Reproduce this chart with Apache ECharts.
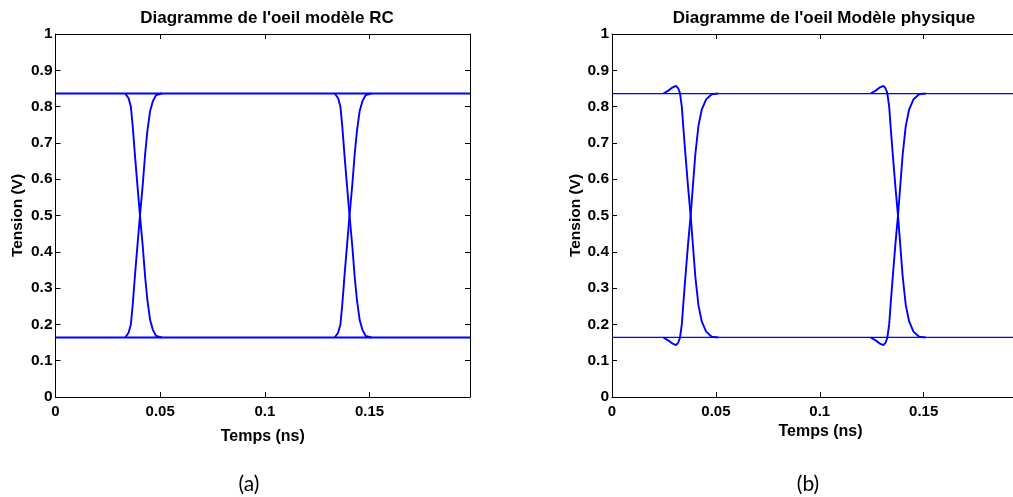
<!DOCTYPE html>
<html>
<head>
<meta charset="utf-8">
<script src="https://cdn.jsdelivr.net/npm/echarts@6/dist/echarts.min.js"></script>
<style>
html,body{margin:0;padding:0;background:#fff;}
#chart{width:1013px;height:497px;}
</style>
</head>
<body>
<div id="chart"></div>
<script>
// ---------- DATA ----------
const titleA = "Diagramme de l'oeil modèle RC";
const titleB = "Diagramme de l'oeil Modèle physique";
const xName = "Temps (ns)";
const yName = "Tension (V)";
const captionA = "(a)";
const captionB = "(b)";

const highLevel = 0.836;
const lowLevel = 0.164;
const rcSpan = [0, 0.198];
const physSpan = [0, 0.193];

// RC model: first transition
const rcTime1 = [0.0333, 0.0349, 0.0360, 0.0369, 0.0380, 0.0392, 0.0404, 0.0417, 0.0428, 0.0439, 0.0452, 0.0465, 0.0481, 0.0508];
const rcFall1 = [0.836, 0.823, 0.800, 0.745, 0.662, 0.579, 0.497, 0.414, 0.332, 0.267, 0.212, 0.185, 0.168, 0.164];
const rcRise1 = [0.164, 0.177, 0.200, 0.255, 0.338, 0.421, 0.503, 0.586, 0.668, 0.733, 0.788, 0.815, 0.832, 0.836];
// RC model: second transition
const rcTime2 = [0.1334, 0.1350, 0.1361, 0.1370, 0.1381, 0.1393, 0.1405, 0.1418, 0.1429, 0.1440, 0.1453, 0.1466, 0.1482, 0.1509];
const rcFall2 = [0.836, 0.823, 0.800, 0.745, 0.662, 0.579, 0.497, 0.414, 0.332, 0.267, 0.212, 0.185, 0.168, 0.164];
const rcRise2 = [0.164, 0.177, 0.200, 0.255, 0.338, 0.421, 0.503, 0.586, 0.668, 0.733, 0.788, 0.815, 0.832, 0.836];

// Physical model: first transition
const phTime1 = [0.0247, 0.0271, 0.0292, 0.0308, 0.0319, 0.0327, 0.0336, 0.0343, 0.0353, 0.0366, 0.0379, 0.0390, 0.0401, 0.0416, 0.0432, 0.0453, 0.0480, 0.0512];
const phFall1 = [0.836, 0.844, 0.853, 0.857, 0.850, 0.837, 0.800, 0.745, 0.671, 0.579, 0.497, 0.414, 0.332, 0.253, 0.208, 0.180, 0.166, 0.164];
const phRise1 = [0.164, 0.156, 0.147, 0.143, 0.150, 0.163, 0.200, 0.255, 0.329, 0.421, 0.503, 0.586, 0.668, 0.747, 0.792, 0.820, 0.834, 0.836];
// Physical model: second transition
const phTime2 = [0.1245, 0.1269, 0.1290, 0.1306, 0.1317, 0.1325, 0.1334, 0.1341, 0.1351, 0.1364, 0.1377, 0.1388, 0.1399, 0.1414, 0.1430, 0.1451, 0.1478, 0.1510];
const phFall2 = [0.836, 0.844, 0.853, 0.857, 0.850, 0.837, 0.800, 0.745, 0.671, 0.579, 0.497, 0.414, 0.332, 0.253, 0.208, 0.180, 0.166, 0.164];
const phRise2 = [0.164, 0.156, 0.147, 0.143, 0.150, 0.163, 0.200, 0.255, 0.329, 0.421, 0.503, 0.586, 0.668, 0.747, 0.792, 0.820, 0.834, 0.836];

// ---------- CHART ----------
const BLUE = '#0000ff';
const FONT = '"Liberation Sans", Arial, sans-serif';
const pairs = (ts, vs) => ts.map((t, i) => [t, vs[i]]);

function xAxes(gi, span, nameGap, namePad) {
  const base = {
    type: 'value', gridIndex: gi, min: span[0], max: span[1], interval: 0.05,
    splitLine: {show: false},
    axisLine: {onZero: false, lineStyle: {color: '#000', width: 1}},
    axisTick: {inside: true, length: 5, lineStyle: {color: '#000'}}
  };
  return [
    Object.assign({}, base, {
      position: 'bottom', name: xName, nameLocation: 'middle', nameGap: nameGap,
      nameTextStyle: {fontFamily: FONT, fontWeight: 'bold', fontSize: 16, color: '#000', padding: [0, 0, 0, namePad]},
      axisLabel: {showMaxLabel: false, margin: 7, fontFamily: FONT, fontWeight: 'bold', fontSize: 15, color: '#000'}
    }),
    Object.assign({}, base, {position: 'top', axisLabel: {show: false}})
  ];
}
function yAxes(gi, nameGap, showRight) {
  const base = {
    type: 'value', gridIndex: gi, min: 0, max: 1, interval: 0.1,
    splitLine: {show: false},
    axisLine: {onZero: false, lineStyle: {color: '#000', width: 1}},
    axisTick: {inside: true, length: 5, lineStyle: {color: '#000'}}
  };
  return [
    Object.assign({}, base, {
      position: 'left', name: yName, nameLocation: 'middle', nameGap: nameGap,
      nameTextStyle: {fontFamily: FONT, fontWeight: 'bold', fontSize: 15.5, color: '#000'},
      axisLabel: {margin: 3, fontFamily: FONT, fontWeight: 'bold', fontSize: 15.5, color: '#000'}
    }),
    Object.assign({}, base, {position: 'right', show: showRight, axisLabel: {show: false}})
  ];
}
function line(xi, yi, data, w) {
  return {
    type: 'line', xAxisIndex: xi, yAxisIndex: yi, data: data,
    showSymbol: false, symbol: 'none', animation: false, silent: true,
    lineStyle: {color: BLUE, width: w}
  };
}

const chart = echarts.init(document.getElementById('chart'), null, {renderer: 'canvas'});
chart.setOption({
  animation: false,
  backgroundColor: '#fff',
  title: [
    {text: titleA, left: 262, top: 5, textAlign: 'center',
     textStyle: {fontFamily: FONT, fontWeight: 'bold', fontSize: 17, color: '#000'}},
    {text: titleB, left: 819, top: 5, textAlign: 'center',
     textStyle: {fontFamily: FONT, fontWeight: 'bold', fontSize: 17, color: '#000'}},
    {text: captionA, left: 244, top: 469, textAlign: 'center',
     textStyle: {fontFamily: 'Lato, "Open Sans", sans-serif', fontWeight: 'normal', fontSize: 21, color: '#000'}},
    {text: captionB, left: 803, top: 469, textAlign: 'center',
     textStyle: {fontFamily: 'Lato, "Open Sans", sans-serif', fontWeight: 'normal', fontSize: 21, color: '#000'}}
  ],
  grid: [
    {left: 55.5, top: 34, right: 543, bottom: 100, containLabel: false},
    {left: 612, top: 34, right: 0, bottom: 100, containLabel: false}
  ],
  xAxis: xAxes(0, rcSpan, 32, 0).concat(xAxes(1, physSpan, 20, 16)),
  yAxis: yAxes(0, 30, true).concat(yAxes(1, 26, false)),
  series: [
    line(0, 0, pairs(rcSpan, [highLevel, highLevel]), 1.9),
    line(0, 0, pairs(rcSpan, [lowLevel, lowLevel]), 1.9),
    line(0, 0, pairs(rcTime1, rcFall1), 1.9),
    line(0, 0, pairs(rcTime1, rcRise1), 1.9),
    line(0, 0, pairs(rcTime2, rcFall2), 1.9),
    line(0, 0, pairs(rcTime2, rcRise2), 1.9),
    line(2, 2, pairs(physSpan, [highLevel, highLevel]), 1.3),
    line(2, 2, pairs(physSpan, [lowLevel, lowLevel]), 1.3),
    line(2, 2, pairs(phTime1, phFall1), 1.9),
    line(2, 2, pairs(phTime1, phRise1), 1.9),
    line(2, 2, pairs(phTime2, phFall2), 1.9),
    line(2, 2, pairs(phTime2, phRise2), 1.9)
  ]
});
</script>
</body>
</html>
